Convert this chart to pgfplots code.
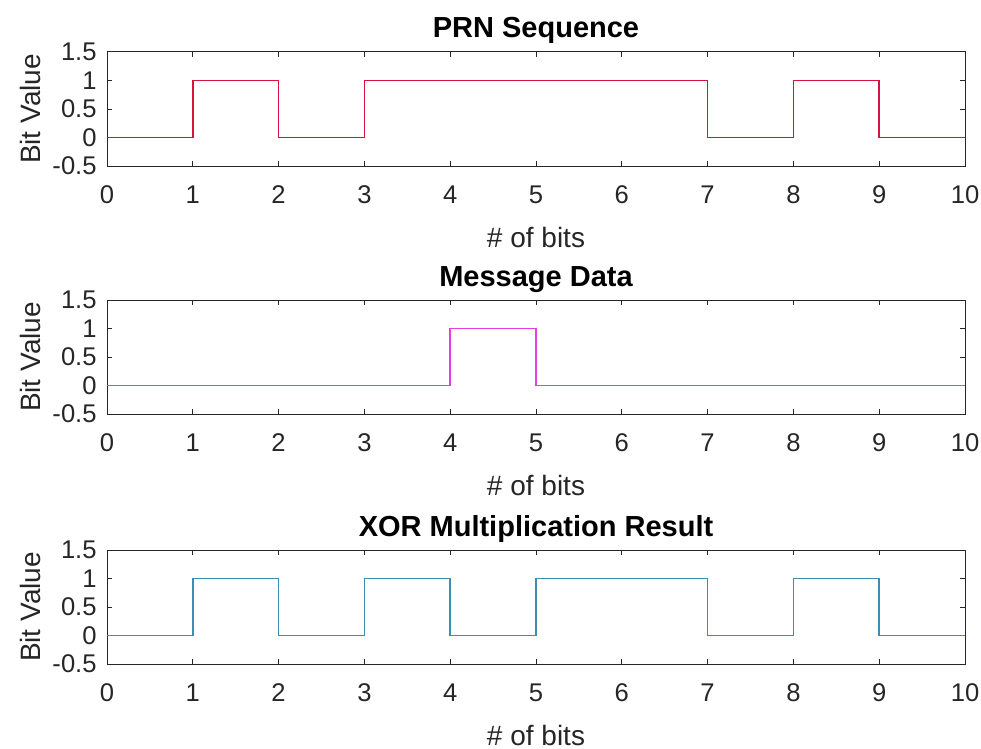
\documentclass[border=0pt]{standalone}
\usepackage{pgfplots}
\pgfplotsset{compat=1.18}
\usepackage{fontspec}
\setmainfont{Liberation Sans}
\definecolor{prnred}{HTML}{D4143C}
\definecolor{msgmag}{HTML}{E040E0}
\definecolor{xorblue}{HTML}{3C8DB4}
\definecolor{axgray}{HTML}{262626}
\pgfplotsset{
  every axis title shift=0pt,
  bitax/.style={
    scale only axis,
    width=429pt, height=57pt,
    xmin=0, xmax=10, ymin=-0.5, ymax=1.5,
    xtick={0,1,...,10}, ytick={-0.5,0,0.5,1,1.5},
    yticklabels={-0.5,0,0.5,1,1.5},
    /pgf/number format/assume math mode=true,
    tick align=inside, major tick length=2.5pt,
    axis line style={axgray, line width=0.5pt},
    every tick/.style={axgray, line width=0.5pt},
    tick label style={font=\fontsize{12.8}{12.8}\selectfont, text=axgray},
    xticklabel style={anchor=base, yshift=-18.5pt, inner sep=0pt},
    yticklabel style={anchor=east, inner sep=0pt, xshift=-5pt},
    xlabel={\# of bits}, ylabel={Bit Value},
    label style={font=\fontsize{14}{14}\selectfont, text=axgray},
    xlabel style={at={(axis description cs:0.5,0)}, anchor=base, yshift=-40.5pt, inner sep=0pt},
    ylabel style={at={(axis description cs:-0.0897,0.5)}, anchor=center, inner sep=0pt},
    title style={at={(axis description cs:0.5,1)}, anchor=base, yshift=7pt, inner sep=0pt,
      font=\fontsize{14.5}{14.5}\selectfont\bfseries, text=black},
  }
}
\begin{document}
\begin{tikzpicture}
\useasboundingbox (0,0) rectangle (490.5pt,-374.5pt);
\begin{axis}[bitax, at={(53.5pt,-26pt)}, anchor=north west, title={PRN Sequence}]
\addplot[const plot, prnred, line width=0.8pt] coordinates {
(0,0) (1,1) (2,0) (3,1) (4,1) (5,1) (6,1) (7,0) (8,1) (9,0) (10,0)};
\end{axis}
\begin{axis}[bitax, at={(53.5pt,-150pt)}, anchor=north west, title={Message Data}]
\addplot[const plot, msgmag, line width=0.8pt] coordinates {
(0,0) (1,0) (2,0) (3,0) (4,1) (5,0) (6,0) (7,0) (8,0) (9,0) (10,0)};
\end{axis}
\begin{axis}[bitax, at={(53.5pt,-275pt)}, anchor=north west, title={XOR Multiplication Result}]
\addplot[const plot, xorblue, line width=0.8pt] coordinates {
(0,0) (1,1) (2,0) (3,1) (4,0) (5,1) (6,1) (7,0) (8,1) (9,0) (10,0)};
\end{axis}
\end{tikzpicture}
\end{document}
